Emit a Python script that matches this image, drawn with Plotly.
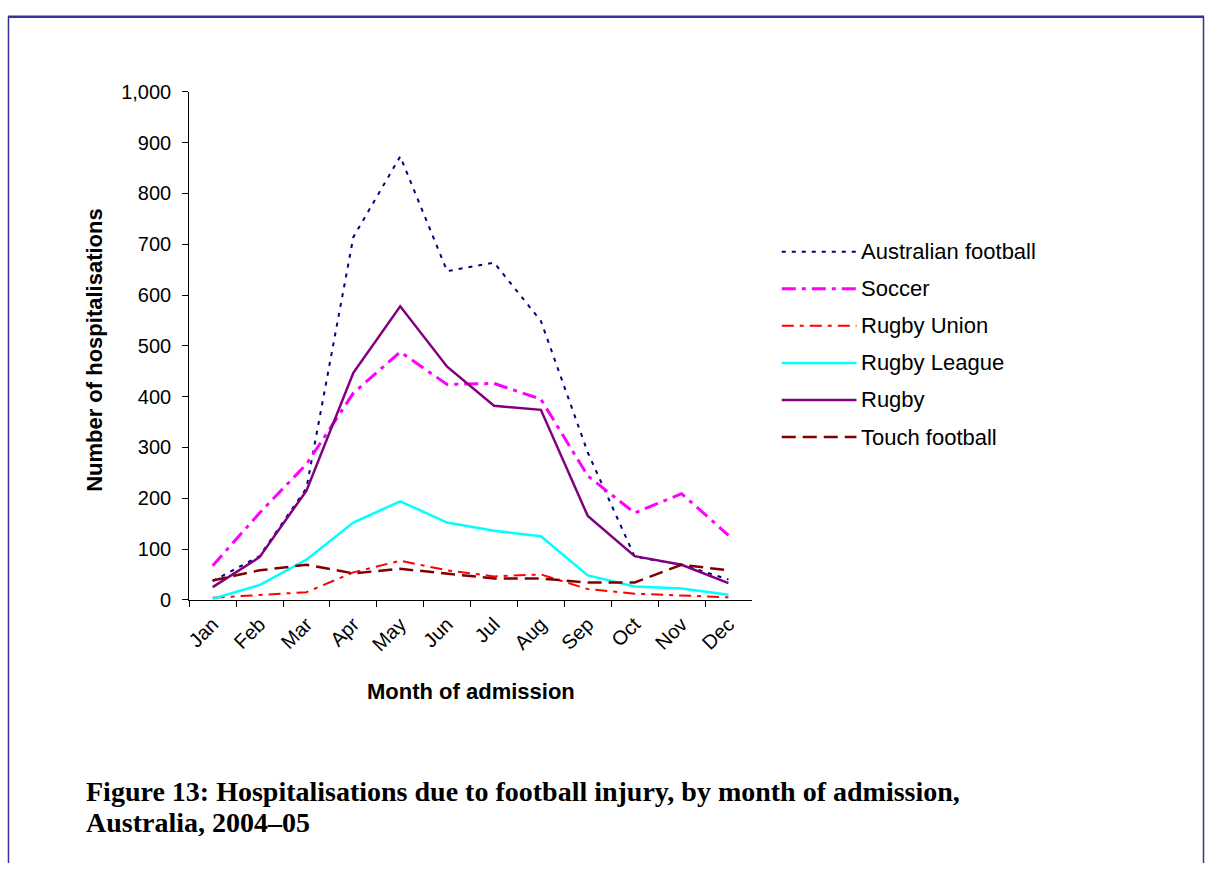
import plotly.graph_objects as go

W, H = 1207, 874

months = ["Jan", "Feb", "Mar", "Apr", "May", "Jun",
          "Jul", "Aug", "Sep", "Oct", "Nov", "Dec"]

australian_football = [37, 86, 220, 714, 873, 647, 664, 549, 290, 85, 69, 40]
soccer = [67, 171, 267, 407, 488, 424, 426, 395, 244, 171, 209, 127]
rugby_union = [4, 9, 15, 54, 77, 58, 46, 50, 21, 12, 8, 5]
rugby_league = [2, 29, 79, 152, 194, 152, 136, 125, 48, 26, 22, 10]
rugby = [25, 84, 215, 447, 578, 459, 382, 374, 165, 86, 69, 33]
touch_football = [38, 58, 69, 52, 61, 52, 42, 42, 34, 34, 69, 58]

series = [
    ("Australian football", australian_football, "#000080", 2, "4px,6px"),
    ("Soccer", soccer, "#FF00FF", 3, "14px,6px,4px,6px"),
    ("Rugby Union", rugby_union, "#FF0000", 2, "12px,6px,4px,6px"),
    ("Rugby League", rugby_league, "#00FFFF", 2.5, "solid"),
    ("Rugby", rugby, "#800080", 2.5, "solid"),
    ("Touch football", touch_football, "#800000", 2.5, "14px,7px"),
]

def px(x):
    return x / W

def py(y):
    return 1 - y / H

fig = go.Figure()
for name, vals, color, width, dash in series:
    fig.add_trace(go.Scatter(x=months, y=vals, name=name, mode="lines",
                             line=dict(color=color, width=width, dash=dash),
                             showlegend=False))

font = "Arial, Liberation Sans, sans-serif"

fig.update_layout(
    width=W, height=H,
    margin=dict(l=0, r=0, t=0, b=0),
    paper_bgcolor="white", plot_bgcolor="white",
    font=dict(family=font, size=20, color="black"),
    xaxis=dict(domain=[px(185), px(750)], type="category",
               range=[-0.5, 11.5], showline=True, linecolor="black", linewidth=1,
               ticks="outside", tickson="boundaries", ticklen=6, tickcolor="black",
               tickangle=-45, ticklabelstandoff=4, showgrid=False, zeroline=False,
               tickfont=dict(size=20)),
    yaxis=dict(domain=[py(604), py(83)], range=[0, 1000], dtick=100,
               tickformat=",", showline=True, linecolor="black", linewidth=1,
               ticks="outside", ticklen=6, tickcolor="black", ticklabelstandoff=7,
               showgrid=False, zeroline=False, tickfont=dict(size=20)),
)

# axis titles
fig.add_annotation(x=px(468), y=py(698), xref="paper", yref="paper",
                   text="<b>Month of admission</b>", showarrow=False,
                   xanchor="center", yanchor="middle", font=dict(size=22))
fig.add_annotation(x=px(90), y=py(348), xref="paper", yref="paper",
                   text="<b>Number of hospitalisations</b>", showarrow=False,
                   xanchor="center", yanchor="middle",
                   textangle=-90, font=dict(size=22))

# legend drawn by hand to match the long line samples
for i, (name, vals, color, width, dash) in enumerate(series):
    yy = 247 + i * 38
    fig.add_shape(type="line", xref="paper", yref="paper",
                  x0=px(780), x1=px(855), y0=py(yy), y1=py(yy),
                  line=dict(color=color, width=width, dash=dash))
    fig.add_annotation(x=px(858), y=py(yy), xref="paper", yref="paper",
                       text=name, showarrow=False, xanchor="left", yanchor="middle",
                       font=dict(size=22))

# caption
cap_font = dict(family="Liberation Serif, Times New Roman, serif", size=28, color="black")
fig.add_annotation(x=px(79), y=py(801), xref="paper", yref="paper",
                   text="<b>Figure 13: Hospitalisations due to football injury, by month of admission,</b>",
                   showarrow=False, xanchor="left", yanchor="middle", font=cap_font)
fig.add_annotation(x=px(79), y=py(832), xref="paper", yref="paper",
                   text="<b>Australia, 2004\u201305</b>",
                   showarrow=False, xanchor="left", yanchor="middle", font=cap_font)

# page frame
fig.add_shape(type="line", xref="paper", yref="paper", x0=px(3), x1=px(1204),
              y0=py(6), y1=py(6), line=dict(color="#333399", width=2.5))
fig.add_shape(type="line", xref="paper", yref="paper", x0=px(3.5), x1=px(3.5),
              y0=py(6), y1=0, line=dict(color="#333399", width=1.5))
fig.add_shape(type="line", xref="paper", yref="paper", x0=px(1203.5), x1=px(1203.5),
              y0=py(6), y1=0, line=dict(color="#333399", width=1.5))

fig.write_html("out.html", config={"displayModeBar": False},
               post_script="document.body.style.margin='0';")
